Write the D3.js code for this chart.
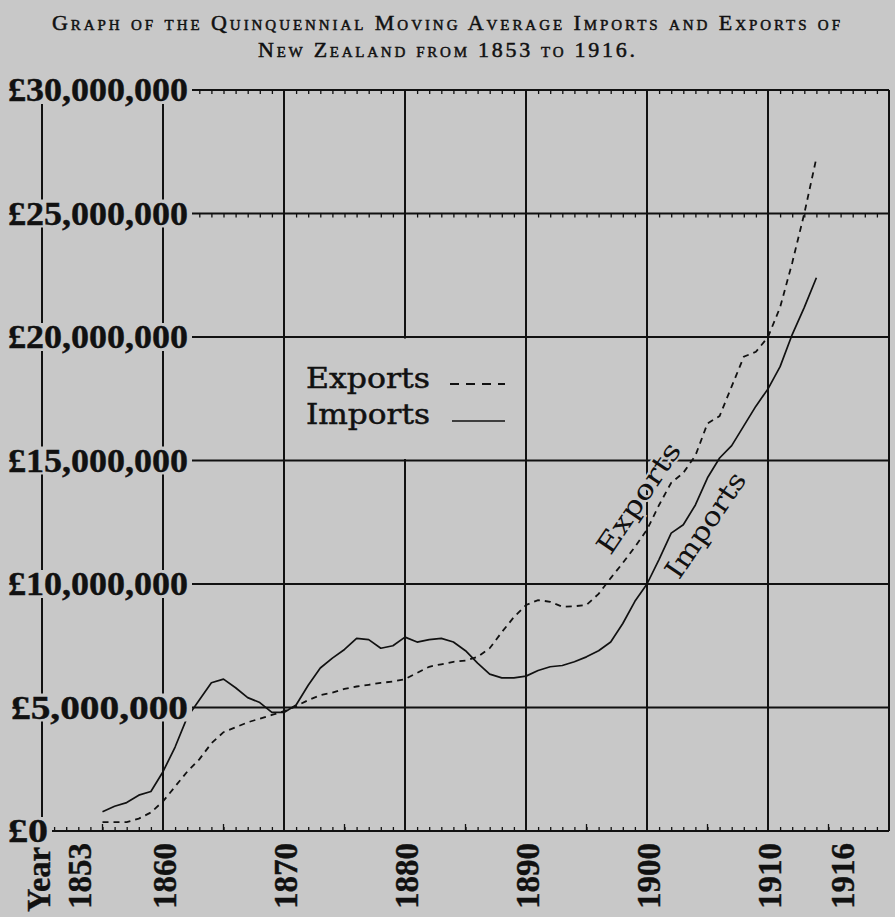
<!DOCTYPE html>
<html>
<head>
<meta charset="utf-8">
<script src="https://cdn.jsdelivr.net/npm/d3@7"></script>
<style>
  html, body { margin: 0; padding: 0; background: #c8c8c8; }
  svg { display: block; }
</style>
</head>
<body>
<svg id="chart" width="895" height="917"></svg>
<script>
// ---------------- DATA ----------------
const years = [1855,1856,1857,1858,1859,1860,1861,1862,1863,1864,1865,1866,1867,1868,1869,
  1870,1871,1872,1873,1874,1875,1876,1877,1878,1879,1880,1881,1882,1883,1884,1885,1886,1887,
  1888,1889,1890,1891,1892,1893,1894,1895,1896,1897,1898,1899,1900,1901,1902,1903,1904,1905,
  1906,1907,1908,1909,1910,1911,1912,1913,1914];
// values in £ millions (quinquennial moving average)
const imports = [0.78,1.0,1.15,1.45,1.6,2.4,3.4,4.6,5.3,6.0,6.15,5.8,5.4,5.2,4.8,
  4.8,5.1,5.9,6.6,7.0,7.35,7.8,7.75,7.4,7.5,7.85,7.65,7.75,7.8,7.65,7.3,6.8,6.35,
  6.2,6.2,6.27,6.5,6.65,6.7,6.85,7.05,7.3,7.65,8.4,9.3,10.0,11.0,12.06,12.4,13.2,14.3,
  15.1,15.6,16.4,17.2,17.9,18.8,20.1,21.2,22.4];
const exportsV = [0.36,0.36,0.36,0.5,0.75,1.2,1.8,2.4,2.9,3.55,4.0,4.2,4.4,4.55,4.7,
  4.85,5.05,5.3,5.5,5.6,5.75,5.85,5.92,6.0,6.05,6.15,6.4,6.65,6.75,6.85,6.9,7.05,7.4,
  8.05,8.66,9.15,9.35,9.28,9.08,9.1,9.15,9.6,10.24,10.85,11.5,12.2,13.2,14.1,14.5,15.2,16.5,
  16.8,18.0,19.2,19.4,20.0,21.2,23.0,25.0,27.25];
const yTickValues = [0,5,10,15,20,25,30];
const yTickLabels = ["£0","£5,000,000","£10,000,000","£15,000,000","£20,000,000","£25,000,000","£30,000,000"];
const gridYears = [1850,1860,1870,1880,1890,1900,1910,1920];
const xLabelYears = [1853,1860,1870,1880,1890,1900,1910,1916];
const xAxisTitle = "Year";
const titleLines = ["Graph of the Quinquennial Moving Average Imports and Exports of",
                    "New Zealand from 1853 to 1916."];
const seriesNames = ["Exports","Imports"];

// ---------------- SETUP ----------------
const BG = "#c8c8c8";
const INK = "#111";
const svg = d3.select("#chart");
svg.append("rect").attr("width",895).attr("height",917).attr("fill",BG);

const x = d3.scaleLinear().domain([1850,1920]).range([42,889]);
const y = d3.scaleLinear().domain([0,30]).range([831,90]);

const g = svg.append("g");

// horizontal grid lines
g.append("g").selectAll("line").data(yTickValues).join("line")
  .attr("x1", x(1850)).attr("x2", x(1920))
  .attr("y1", d=>y(d)).attr("y2", d=>y(d))
  .attr("stroke", INK).attr("stroke-width", 2);

// vertical grid lines
g.append("g").selectAll("line").data(gridYears).join("line")
  .attr("x1", d=>x(d)).attr("x2", d=>x(d))
  .attr("y1", y(30)).attr("y2", y(0))
  .attr("stroke", INK).attr("stroke-width", 2);

// year minor ticks via d3 axes
const minorYears = d3.range(1851, 1920).filter(d => d % 10 !== 0);
function tickAxis(axisFn, yy, size){
  const a = axisFn(x).tickValues(minorYears).tickSize(size).tickFormat("");
  const ag = g.append("g").attr("transform",`translate(0,${yy})`).call(a);
  ag.select(".domain").remove();
  ag.selectAll(".tick line").attr("stroke", INK).attr("stroke-width",1.3);
}
tickAxis(d3.axisBottom, y(30), 4);
tickAxis(d3.axisBottom, y(25), 4);
tickAxis(d3.axisTop, y(0), 4);
g.append("g").selectAll("line").data(minorYears.filter(d=>d%5===0)).join("line")
  .attr("x1", d=>x(d)).attr("x2", d=>x(d))
  .attr("y1", y(0)).attr("y2", y(0)-7)
  .attr("stroke", INK).attr("stroke-width",1.3);

// legend box: hide 1880 line inside
svg.append("rect")
  .attr("x", x(1870)+1.5).attr("width", x(1890)-x(1870)-3)
  .attr("y", y(20)+1.5).attr("height", y(15)-y(20)-3)
  .attr("fill", BG);

// ---------------- DATA LINES ----------------
const line = d3.line().x((d,i)=>x(years[i])).y(d=>y(d)).curve(d3.curveLinear);
svg.append("path").datum(imports).attr("d", line)
  .attr("fill","none").attr("stroke",INK).attr("stroke-width",1.7)
  .attr("stroke-linejoin","round");
svg.append("path").datum(exportsV).attr("d", line)
  .attr("fill","none").attr("stroke",INK).attr("stroke-width",1.8)
  .attr("stroke-dasharray","6,5");

// ---------------- LABELS ----------------
const labelFont = "'Liberation Serif','Times New Roman',serif";
// y labels with knock-out backgrounds
const yl = svg.append("g");
const bgG = yl.append("g");
const txt = yl.append("g").selectAll("text").data(yTickValues).join("text")
  .attr("x", d => d===0 ? 48 : 188)
  .attr("y", d => y(d) + 11)
  .attr("text-anchor","end")
  .attr("font-family", labelFont).attr("font-weight","bold").attr("font-size",33)
  .attr("textLength", d => d===0 ? 40 : (d===5 ? 177 : 180))
  .attr("lengthAdjust","spacingAndGlyphs")
  .attr("fill", INK)
  .attr("stroke", INK).attr("stroke-width", 0.4)
  .text((d,i)=>yTickLabels[i]);
txt.each(function(d){
  const b = this.getBBox();
  bgG.append("rect").attr("x", b.x-4).attr("y", y(d)-14)
    .attr("width", b.width+8).attr("height", 28).attr("fill", BG);
});

// x labels (rotated)
svg.append("g").selectAll("text").data(xLabelYears).join("text")
  .attr("transform", d => `translate(${x(d)+13},909) rotate(-90)`)
  .attr("font-family", labelFont).attr("font-weight","bold").attr("font-size",34)
  .attr("textLength", 66).attr("lengthAdjust","spacingAndGlyphs")
  .attr("fill", INK).attr("stroke", INK).attr("stroke-width", 0.4)
  .text(d=>d);
svg.append("text")
  .attr("transform", `translate(${x(1850)+8},912) rotate(-90)`)
  .attr("font-family", labelFont).attr("font-weight","bold").attr("font-size",34)
  .attr("textLength", 65).attr("lengthAdjust","spacingAndGlyphs")
  .attr("fill", INK).attr("stroke", INK).attr("stroke-width", 0.4)
  .text(xAxisTitle);

// title
const titleG = svg.append("g").attr("font-family", labelFont).attr("fill", INK)
  .attr("stroke", INK).attr("stroke-width", 0.5)
  .attr("font-size", 22).style("font-variant","small-caps");
titleG.append("text").attr("x",52).attr("y",30).attr("textLength",788)
  .attr("lengthAdjust","spacing").text(titleLines[0]);
titleG.append("text").attr("x",258).attr("y",57).attr("textLength",377)
  .attr("lengthAdjust","spacing").text(titleLines[1]);

// legend
const legFont = "'DejaVu Serif',serif";
svg.append("text").attr("x",306).attr("y",388)
  .attr("font-family",legFont).attr("font-size",28).attr("fill",INK)
  .attr("stroke",INK).attr("stroke-width",0.5)
  .attr("textLength",124).attr("lengthAdjust","spacingAndGlyphs")
  .text(seriesNames[0]);
svg.append("text").attr("x",306).attr("y",424)
  .attr("font-family",legFont).attr("font-size",28).attr("fill",INK)
  .attr("stroke",INK).attr("stroke-width",0.5)
  .attr("textLength",124).attr("lengthAdjust","spacingAndGlyphs")
  .text(seriesNames[1]);
svg.append("line").attr("x1",450).attr("x2",505).attr("y1",384).attr("y2",384)
  .attr("stroke",INK).attr("stroke-width",1.8).attr("stroke-dasharray","9,7");
svg.append("line").attr("x1",452).attr("x2",505).attr("y1",421).attr("y2",421)
  .attr("stroke",INK).attr("stroke-width",1.7);

// in-chart series labels
function slopeLabel(name, cx, cy, len){
  svg.append("text")
    .attr("transform",`translate(${cx},${cy}) rotate(-56)`)
    .attr("text-anchor","middle").attr("dominant-baseline","middle")
    .attr("font-family",legFont).attr("font-size",27).attr("fill",INK)
    .attr("stroke",BG).attr("stroke-width",4).attr("paint-order","stroke")
    .attr("textLength",len).attr("lengthAdjust","spacingAndGlyphs")
    .text(name);
}
slopeLabel(seriesNames[0], 640, 499, 128);
slopeLabel(seriesNames[1], 707, 526, 122);
</script>
</body>
</html>
